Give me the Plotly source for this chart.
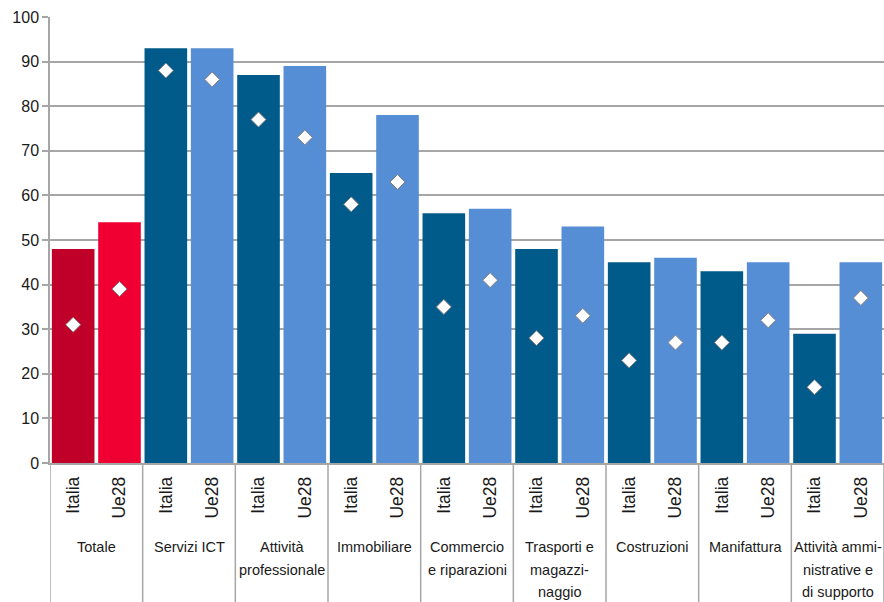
import plotly.graph_objects as go

# ---- data ----
groups = ["Totale", "Servizi ICT", "Attività<br>professionale", "Immobiliare",
          "Commercio<br>e riparazioni", "Trasporti e<br>magazzi-<br>naggio",
          "Costruzioni", "Manifattura", "Attività ammi-<br>nistrative e<br>di supporto"]
series = ["Italia", "Ue28"]
italia_bars = [48, 93, 87, 65, 56, 48, 45, 43, 29]
ue28_bars = [54, 93, 89, 78, 57, 53, 46, 45, 45]
italia_diamonds = [31, 88, 77, 58, 35, 28, 23, 27, 17]
ue28_diamonds = [39, 86, 73, 63, 41, 33, 27, 32, 37]
y_ticks = [0, 10, 20, 30, 40, 50, 60, 70, 80, 90, 100]

# ---- styles ----
RED_DARK = "#C00028"
RED_LIGHT = "#F00032"
BLUE_DARK = "#005A8A"
BLUE_LIGHT = "#558ED5"
GRID = "#A6A6A6"
TXT = "#1a1a1a"
FONT = "Liberation Sans, Arial, sans-serif"

n = len(groups)
x_it = [2 * i for i in range(n)]
x_ue = [2 * i + 1 for i in range(n)]
col_it = [RED_DARK if i == 0 else BLUE_DARK for i in range(n)]
col_ue = [RED_LIGHT if i == 0 else BLUE_LIGHT for i in range(n)]

fig = go.Figure()
fig.add_trace(go.Bar(x=x_it, y=italia_bars, width=0.92, marker=dict(color=col_it, line=dict(width=0)),
                     showlegend=False, hoverinfo="y"))
fig.add_trace(go.Bar(x=x_ue, y=ue28_bars, width=0.92, marker=dict(color=col_ue, line=dict(width=0)),
                     showlegend=False, hoverinfo="y"))
fig.add_trace(go.Scatter(x=x_it + x_ue, y=italia_diamonds + ue28_diamonds, mode="markers",
                         marker=dict(symbol="diamond", size=11.5, color="white",
                                     line=dict(color="#7F7F7F", width=1)),
                         showlegend=False, hoverinfo="y"))

tickvals = x_it + x_ue
ticktext = [series[0]] * n + [series[1]] * n

H, B, T = 602, 139, 17
plot_h = H - B - T

shapes = []
for i in range(n + 1):
    shapes.append(dict(type="line", xref="x", yref="paper", x0=2 * i - 0.5, x1=2 * i - 0.5,
                       y0=0, y1=-B / plot_h, line=dict(color=GRID, width=1.5)))

annotations = []
for i, g in enumerate(groups):
    for k, line in enumerate(g.split("<br>")):
        annotations.append(dict(x=2 * i + 0.5, y=0, xref="x", yref="paper", yanchor="middle",
                                xanchor="center", yshift=-(84 + 22.5 * k), text=line, showarrow=False,
                                font=dict(family=FONT, size=14.5, color=TXT), align="center"))

fig.update_layout(
    width=884, height=602,
    margin=dict(l=50, r=0, t=T, b=B),
    paper_bgcolor="white", plot_bgcolor="white",
    barmode="overlay",
    font=dict(family=FONT, size=16, color=TXT),
    shapes=shapes, annotations=annotations,
    xaxis=dict(range=[-0.5, 2 * n - 0.5], tickvals=tickvals, ticktext=ticktext, tickangle=-90,
               showgrid=False, zeroline=False, showline=True, linecolor=GRID, linewidth=1.5,
               ticks="outside", ticklen=5, tickcolor="rgba(0,0,0,0)",
               tickfont=dict(family=FONT, size=17.5, color=TXT)),
    yaxis=dict(range=[0, 100], tickvals=y_ticks, showgrid=True, gridcolor=GRID, gridwidth=1.5,
               zeroline=False, showline=True, linecolor=GRID, linewidth=1.5,
               ticks="outside", ticklen=6, tickcolor=GRID, tickwidth=1.5,
               tickfont=dict(family=FONT, size=16, color=TXT)),
)

fig.write_html("out.html")
